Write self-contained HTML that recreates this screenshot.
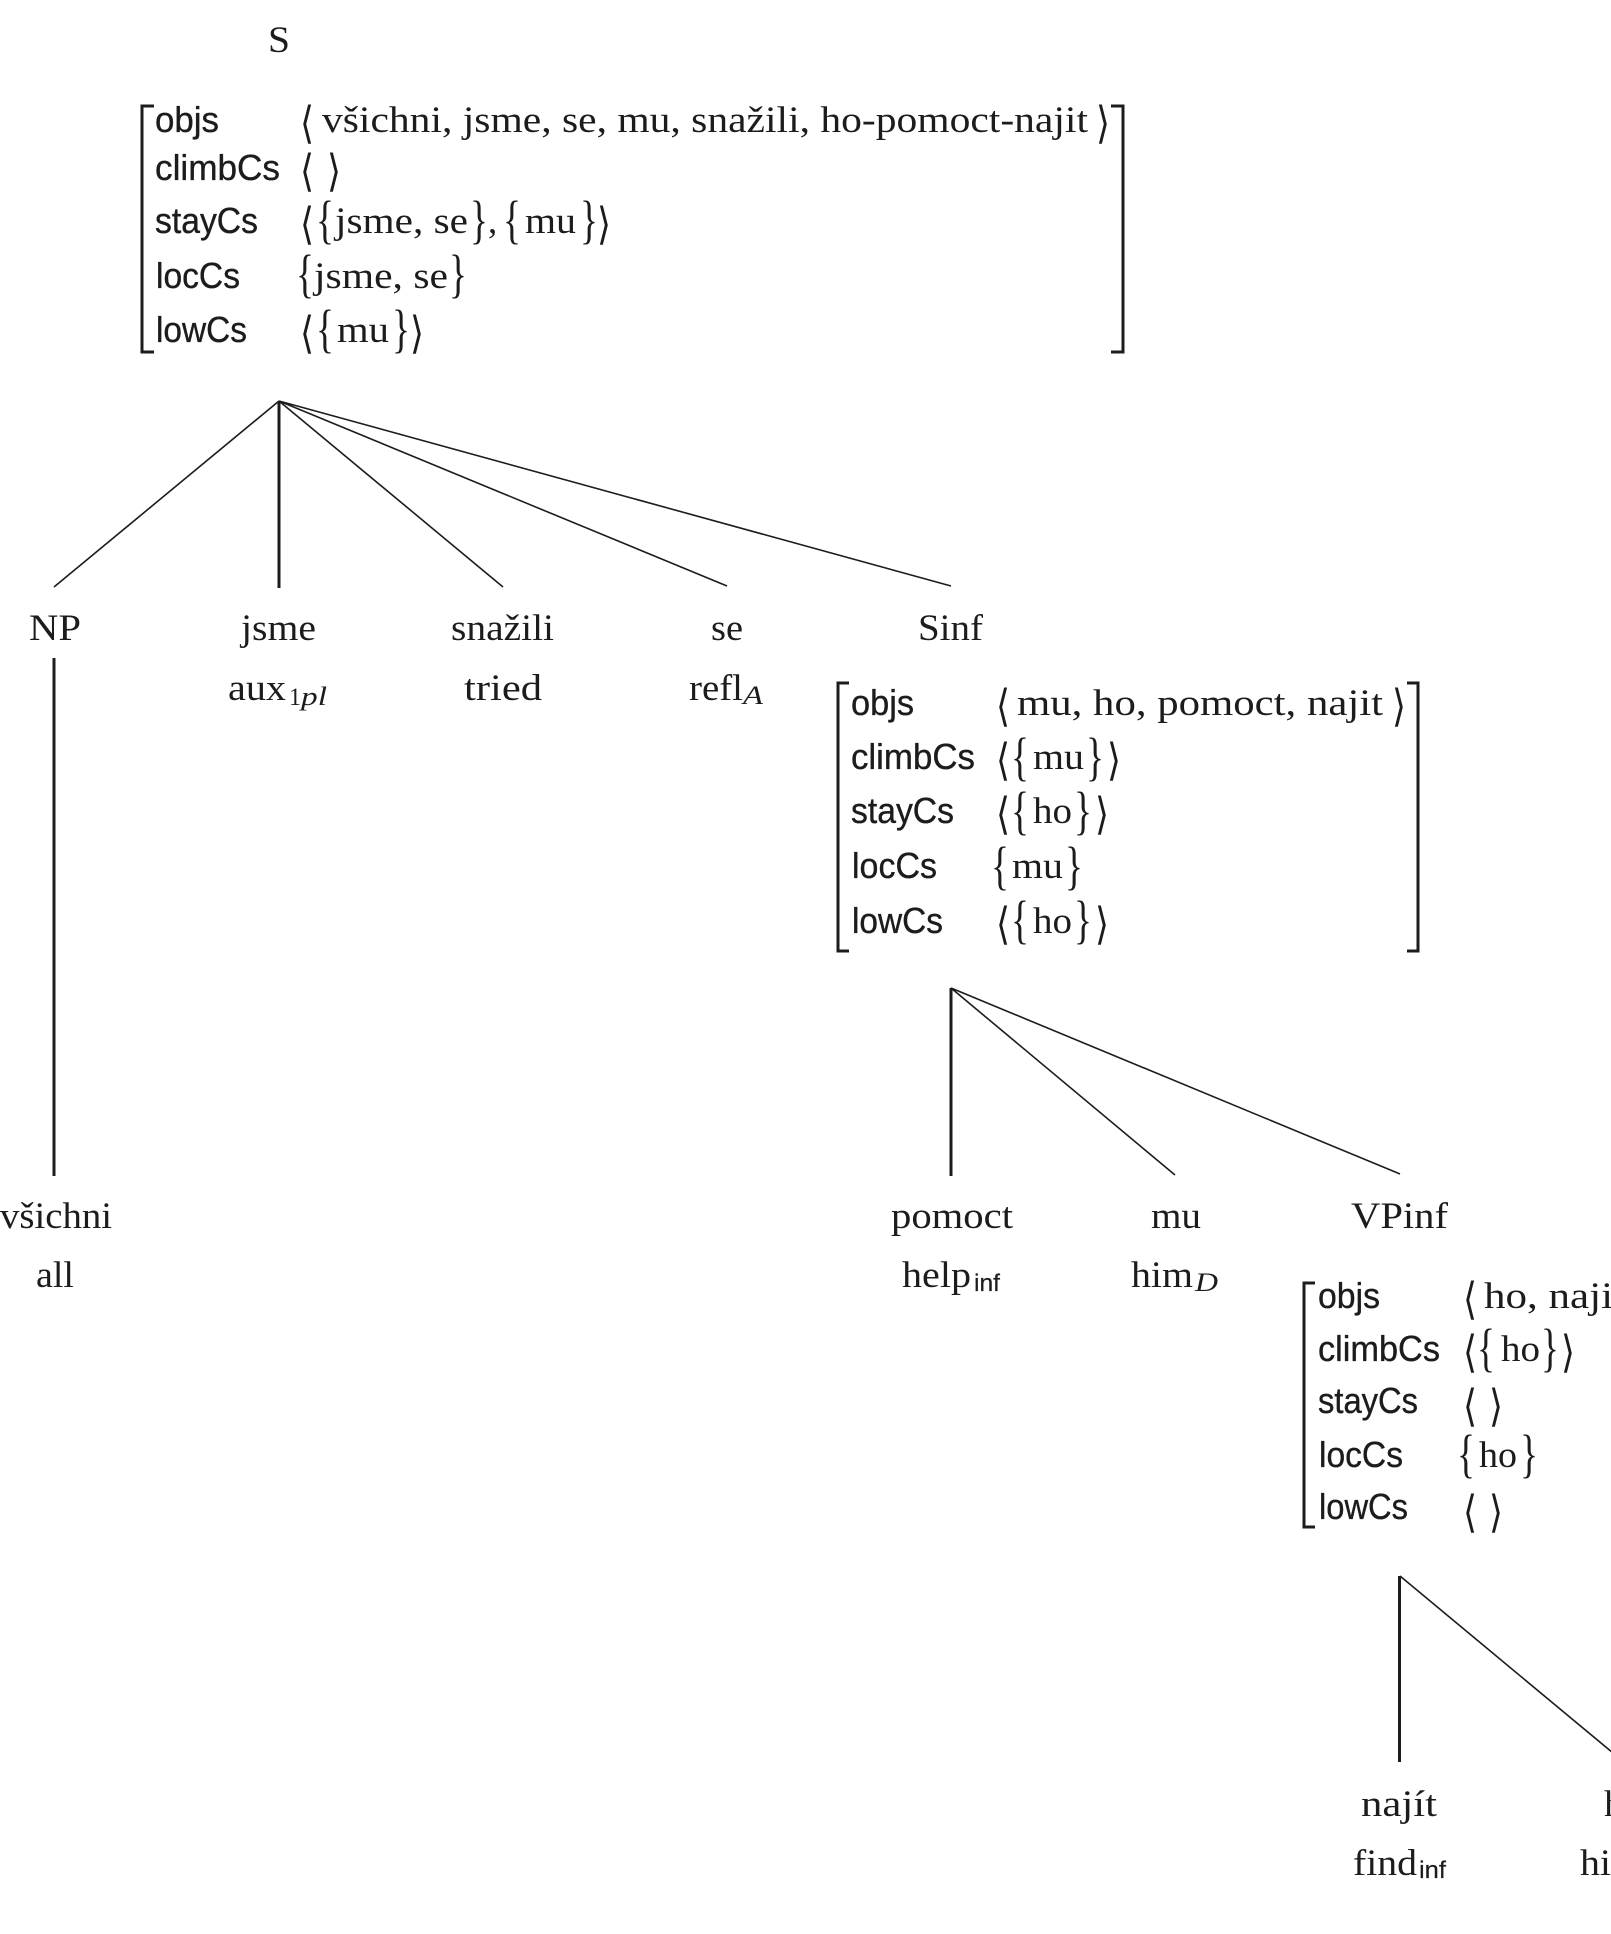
<!DOCTYPE html>
<html><head><meta charset="utf-8">
<style>
html,body{margin:0;padding:0;background:#fff;width:1611px;height:1934px;overflow:hidden}
svg{display:block}
text{fill:#1c1c1c}
.s{font-family:"Liberation Serif",serif;font-size:37px}
.f{font-family:"Liberation Sans",sans-serif;font-size:36px;stroke:#1c1c1c;stroke-width:.35px}
.i{font-family:"Liberation Serif",serif;font-size:26px;font-style:italic}
.u{font-family:"Liberation Serif",serif;font-size:25px}
.n{font-family:"Liberation Sans",sans-serif;font-size:24px;stroke:#1c1c1c;stroke-width:.2px}
.b{font-family:"Liberation Serif",serif;font-size:53px;transform:translateY(1.5px)}
.a{font-family:"DejaVu Sans",sans-serif;font-size:44px;transform:translateY(3px)}
.t{stroke:#1c1c1c;fill:none;stroke-width:1.6}
.v{stroke:#1c1c1c;fill:none;stroke-width:3}
</style></head><body>
<svg width="1611" height="1934" viewBox="0 0 1611 1934" xmlns="http://www.w3.org/2000/svg">
<g>
<text class="s" x="268" y="52" textLength="22" lengthAdjust="spacingAndGlyphs">S</text>

<!-- matrix 1 -->
<path class="v" d="M154 106H142V352H154M1111 106H1123V352H1111"/>
<text class="f" x="155" y="132" textLength="64" lengthAdjust="spacingAndGlyphs">objs</text>
<text class="f" x="155" y="180" textLength="125" lengthAdjust="spacingAndGlyphs">climbCs</text>
<text class="f" x="155" y="233" textLength="103" lengthAdjust="spacingAndGlyphs">stayCs</text>
<text class="f" x="156" y="288" textLength="84" lengthAdjust="spacingAndGlyphs">locCs</text>
<text class="f" x="156" y="342" textLength="91" lengthAdjust="spacingAndGlyphs">lowCs</text>

<text class="a" x="300" y="135" textLength="14" lengthAdjust="spacingAndGlyphs">⟨</text>
<text class="s" x="322" y="132" textLength="766" lengthAdjust="spacingAndGlyphs">všichni, jsme, se, mu, snažili, ho-pomoct-najit</text>
<text class="a" x="1096" y="135" textLength="14" lengthAdjust="spacingAndGlyphs">⟩</text>

<text class="a" x="300" y="183" textLength="14" lengthAdjust="spacingAndGlyphs">⟨</text>
<text class="a" x="327" y="183" textLength="14" lengthAdjust="spacingAndGlyphs">⟩</text>

<text class="a" x="300" y="236" textLength="14" lengthAdjust="spacingAndGlyphs">⟨</text>
<text class="b" x="316" y="236" textLength="18" lengthAdjust="spacingAndGlyphs">{</text>
<text class="s" x="335" y="233" textLength="133" lengthAdjust="spacingAndGlyphs">jsme, se</text>
<text class="b" x="470" y="236" textLength="18" lengthAdjust="spacingAndGlyphs">}</text>
<text class="s" x="488" y="233">,</text>
<text class="b" x="503" y="236" textLength="18" lengthAdjust="spacingAndGlyphs">{</text>
<text class="s" x="525" y="233" textLength="51" lengthAdjust="spacingAndGlyphs">mu</text>
<text class="b" x="580" y="236" textLength="18" lengthAdjust="spacingAndGlyphs">}</text>
<text class="a" x="597" y="236" textLength="14" lengthAdjust="spacingAndGlyphs">⟩</text>

<text class="b" x="296" y="290" textLength="18" lengthAdjust="spacingAndGlyphs">{</text>
<text class="s" x="314" y="288" textLength="134" lengthAdjust="spacingAndGlyphs">jsme, se</text>
<text class="b" x="449" y="290" textLength="18" lengthAdjust="spacingAndGlyphs">}</text>

<text class="a" x="300" y="345" textLength="14" lengthAdjust="spacingAndGlyphs">⟨</text>
<text class="b" x="316" y="345" textLength="18" lengthAdjust="spacingAndGlyphs">{</text>
<text class="s" x="337" y="342" textLength="52" lengthAdjust="spacingAndGlyphs">mu</text>
<text class="b" x="392" y="345" textLength="18" lengthAdjust="spacingAndGlyphs">}</text>
<text class="a" x="410" y="345" textLength="14" lengthAdjust="spacingAndGlyphs">⟩</text>

<!-- top tree -->
<path class="t" d="M279 401L54 587M279 401L503 587M279 401L727 586M279 401L951 586"/>
<path class="v" d="M279 401V588"/>

<text class="s" x="29" y="640" textLength="52" lengthAdjust="spacingAndGlyphs">NP</text>
<text class="s" x="241" y="640" textLength="75" lengthAdjust="spacingAndGlyphs">jsme</text>
<text class="s" x="451" y="640" textLength="103" lengthAdjust="spacingAndGlyphs">snažili</text>
<text class="s" x="711" y="640" textLength="32" lengthAdjust="spacingAndGlyphs">se</text>
<text class="s" x="918" y="640" textLength="65" lengthAdjust="spacingAndGlyphs">Sinf</text>

<text class="s" x="228" y="700" textLength="58" lengthAdjust="spacingAndGlyphs">aux</text>
<text class="u" x="289" y="705" textLength="12" lengthAdjust="spacingAndGlyphs">1</text>
<text class="i" x="301" y="705" textLength="26" lengthAdjust="spacingAndGlyphs">pl</text>
<text class="s" x="464" y="700" textLength="78" lengthAdjust="spacingAndGlyphs">tried</text>
<text class="s" x="689" y="700" textLength="54" lengthAdjust="spacingAndGlyphs">refl</text>
<text class="i" x="743" y="704" textLength="20" lengthAdjust="spacingAndGlyphs">A</text>

<path class="v" d="M54 658V1176"/>
<text class="s" x="0" y="1228" textLength="112" lengthAdjust="spacingAndGlyphs">všichni</text>
<text class="s" x="36" y="1287" textLength="38" lengthAdjust="spacingAndGlyphs">all</text>

<!-- matrix 2 -->
<path class="v" d="M849 683H838V951H849M1407 683H1418V951H1407"/>
<text class="f" x="851" y="715" textLength="63" lengthAdjust="spacingAndGlyphs">objs</text>
<text class="f" x="851" y="769" textLength="124" lengthAdjust="spacingAndGlyphs">climbCs</text>
<text class="f" x="851" y="823" textLength="103" lengthAdjust="spacingAndGlyphs">stayCs</text>
<text class="f" x="852" y="878" textLength="85" lengthAdjust="spacingAndGlyphs">locCs</text>
<text class="f" x="852" y="933" textLength="91" lengthAdjust="spacingAndGlyphs">lowCs</text>

<text class="a" x="996" y="718" textLength="14" lengthAdjust="spacingAndGlyphs">⟨</text>
<text class="s" x="1017" y="715" textLength="366" lengthAdjust="spacingAndGlyphs">mu, ho, pomoct, najit</text>
<text class="a" x="1392" y="718" textLength="14" lengthAdjust="spacingAndGlyphs">⟩</text>

<text class="a" x="996" y="772" textLength="14" lengthAdjust="spacingAndGlyphs">⟨</text>
<text class="b" x="1011" y="773" textLength="18" lengthAdjust="spacingAndGlyphs">{</text>
<text class="s" x="1033" y="769" textLength="51" lengthAdjust="spacingAndGlyphs">mu</text>
<text class="b" x="1086" y="773" textLength="18" lengthAdjust="spacingAndGlyphs">}</text>
<text class="a" x="1107" y="772" textLength="14" lengthAdjust="spacingAndGlyphs">⟩</text>

<text class="a" x="996" y="826" textLength="14" lengthAdjust="spacingAndGlyphs">⟨</text>
<text class="b" x="1011" y="827" textLength="18" lengthAdjust="spacingAndGlyphs">{</text>
<text class="s" x="1033" y="823" textLength="39" lengthAdjust="spacingAndGlyphs">ho</text>
<text class="b" x="1074" y="827" textLength="18" lengthAdjust="spacingAndGlyphs">}</text>
<text class="a" x="1095" y="826" textLength="14" lengthAdjust="spacingAndGlyphs">⟩</text>

<text class="b" x="991" y="882" textLength="18" lengthAdjust="spacingAndGlyphs">{</text>
<text class="s" x="1012" y="878" textLength="51" lengthAdjust="spacingAndGlyphs">mu</text>
<text class="b" x="1065" y="882" textLength="18" lengthAdjust="spacingAndGlyphs">}</text>

<text class="a" x="996" y="936" textLength="14" lengthAdjust="spacingAndGlyphs">⟨</text>
<text class="b" x="1011" y="936" textLength="18" lengthAdjust="spacingAndGlyphs">{</text>
<text class="s" x="1033" y="933" textLength="39" lengthAdjust="spacingAndGlyphs">ho</text>
<text class="b" x="1074" y="936" textLength="18" lengthAdjust="spacingAndGlyphs">}</text>
<text class="a" x="1095" y="936" textLength="14" lengthAdjust="spacingAndGlyphs">⟩</text>

<!-- mid tree -->
<path class="t" d="M951 988L1175 1175M951 988L1400 1174"/>
<path class="v" d="M951 988V1176"/>

<text class="s" x="891" y="1228" textLength="122" lengthAdjust="spacingAndGlyphs">pomoct</text>
<text class="s" x="1151" y="1228" textLength="50" lengthAdjust="spacingAndGlyphs">mu</text>
<text class="s" x="1351" y="1228" textLength="97" lengthAdjust="spacingAndGlyphs">VPinf</text>
<text class="s" x="902" y="1287" textLength="69" lengthAdjust="spacingAndGlyphs">help</text>
<text class="n" x="974" y="1291" textLength="26" lengthAdjust="spacingAndGlyphs">inf</text>
<text class="s" x="1131" y="1287" textLength="62" lengthAdjust="spacingAndGlyphs">him</text>
<text class="i" x="1195" y="1291" textLength="23" lengthAdjust="spacingAndGlyphs">D</text>

<!-- matrix 3 -->
<path class="v" d="M1315 1283H1304V1527H1315"/>
<text class="f" x="1318" y="1308" textLength="62" lengthAdjust="spacingAndGlyphs">objs</text>
<text class="f" x="1318" y="1361" textLength="122" lengthAdjust="spacingAndGlyphs">climbCs</text>
<text class="f" x="1318" y="1413" textLength="100" lengthAdjust="spacingAndGlyphs">stayCs</text>
<text class="f" x="1319" y="1467" textLength="84" lengthAdjust="spacingAndGlyphs">locCs</text>
<text class="f" x="1319" y="1519" textLength="89" lengthAdjust="spacingAndGlyphs">lowCs</text>

<text class="a" x="1463" y="1311" textLength="14" lengthAdjust="spacingAndGlyphs">⟨</text>
<text class="s" x="1484" y="1308" textLength="141" lengthAdjust="spacingAndGlyphs">ho, najit</text>

<text class="a" x="1463" y="1364" textLength="14" lengthAdjust="spacingAndGlyphs">⟨</text>
<text class="b" x="1477" y="1364" textLength="18" lengthAdjust="spacingAndGlyphs">{</text>
<text class="s" x="1501" y="1361" textLength="39" lengthAdjust="spacingAndGlyphs">ho</text>
<text class="b" x="1541" y="1364" textLength="18" lengthAdjust="spacingAndGlyphs">}</text>
<text class="a" x="1561" y="1364" textLength="14" lengthAdjust="spacingAndGlyphs">⟩</text>

<text class="a" x="1463" y="1418" textLength="14" lengthAdjust="spacingAndGlyphs">⟨</text>
<text class="a" x="1489" y="1418" textLength="14" lengthAdjust="spacingAndGlyphs">⟩</text>

<text class="b" x="1457" y="1470" textLength="18" lengthAdjust="spacingAndGlyphs">{</text>
<text class="s" x="1479" y="1467" textLength="38" lengthAdjust="spacingAndGlyphs">ho</text>
<text class="b" x="1520" y="1470" textLength="18" lengthAdjust="spacingAndGlyphs">}</text>

<text class="a" x="1463" y="1524" textLength="14" lengthAdjust="spacingAndGlyphs">⟨</text>
<text class="a" x="1489" y="1524" textLength="14" lengthAdjust="spacingAndGlyphs">⟩</text>

<!-- bottom tree -->
<path class="t" d="M1400 1576L1613 1753"/>
<path class="v" d="M1399.5 1576V1762"/>

<text class="s" x="1361" y="1816" textLength="76" lengthAdjust="spacingAndGlyphs">najít</text>
<text class="s" x="1353" y="1875" textLength="64" lengthAdjust="spacingAndGlyphs">find</text>
<text class="n" x="1419" y="1878" textLength="27" lengthAdjust="spacingAndGlyphs">inf</text>
<text class="s" x="1604" y="1816" textLength="39" lengthAdjust="spacingAndGlyphs">ho</text>
<text class="s" x="1580" y="1875" textLength="62" lengthAdjust="spacingAndGlyphs">him</text>
</g>
</svg>
</body></html>
